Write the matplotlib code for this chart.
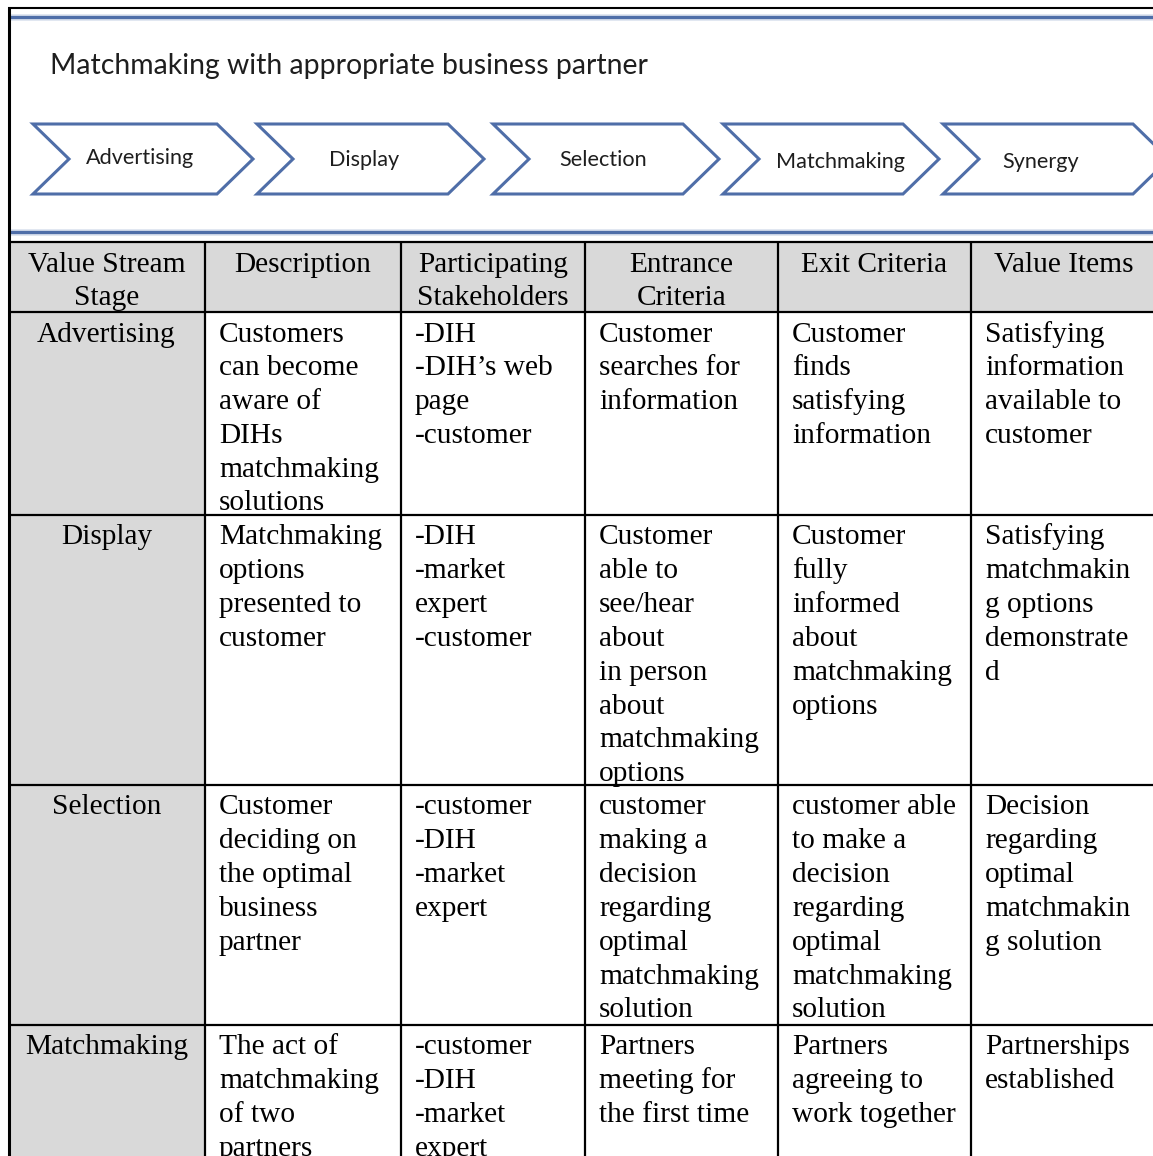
import matplotlib
matplotlib.use("Agg")
import matplotlib.pyplot as plt
from matplotlib.patches import Polygon, Rectangle

# ---------------- data ----------------
title = "Matchmaking with appropriate business partner"
chevron_labels = ["Advertising", "Display", "Selection", "Matchmaking", "Synergy"]

headers = ["Value Stream\nStage", "Description", "Participating\nStakeholders",
           "Entrance\nCriteria", "Exit Criteria", "Value Items"]

stages = ["Advertising", "Display", "Selection", "Matchmaking"]

descriptions = [
    "Customers\ncan become\naware of\nDIHs\nmatchmaking\nsolutions",
    "Matchmaking\noptions\npresented to\ncustomer",
    "Customer\ndeciding on\nthe optimal\nbusiness\npartner",
    "The act of\nmatchmaking\nof two\npartners",
]
stakeholders = [
    "-DIH\n-DIH\u2019s web\npage\n-customer",
    "-DIH\n-market\nexpert\n-customer",
    "-customer\n-DIH\n-market\nexpert",
    "-customer\n-DIH\n-market\nexpert",
]
entrance = [
    "Customer\nsearches for\ninformation",
    "Customer\nable to\nsee/hear\nabout\nin person\nabout\nmatchmaking\noptions",
    "customer\nmaking a\ndecision\nregarding\noptimal\nmatchmaking\nsolution",
    "Partners\nmeeting for\nthe first time",
]
exit_criteria = [
    "Customer\nfinds\nsatisfying\ninformation",
    "Customer\nfully\ninformed\nabout\nmatchmaking\noptions",
    "customer able\nto make a\ndecision\nregarding\noptimal\nmatchmaking\nsolution",
    "Partners\nagreeing to\nwork together",
]
value_items = [
    "Satisfying\ninformation\navailable to\ncustomer",
    "Satisfying\nmatchmakin\ng options\ndemonstrate\nd",
    "Decision\nregarding\noptimal\nmatchmakin\ng solution",
    "Partnerships\nestablished",
]

# ---------------- layout ----------------
W, H = 1153, 1156
col_edges = [8, 205, 401, 585, 778, 971, 1160]
row_edges = [242, 312, 515, 785, 1025, 1170]
chev_left = [33, 257, 493, 723, 943]
chev_right = [217, 448, 683, 903, 1133]
chev_label_x = [140, 364, 603, 840, 1041]
chev_label_y = [158, 160, 160, 162, 162]
chev_top, chev_bot, chev_depth = 124, 194, 36
line_h = 33.8
gray = "#d9d9d9"
blue = "#4f6ea8"
serif = "Liberation Serif"
sans = "Lato"
fs_table = 21.2

fig = plt.figure(figsize=(W / 100, H / 100), dpi=100)
ax = fig.add_axes([0, 0, 1, 1])
ax.set_xlim(0, W)
ax.set_ylim(H, 0)
ax.axis("off")

# upper frame
ax.plot([8, W], [7.5, 7.5], color="black", lw=1.5, solid_capstyle="butt")
for yb in (17, 232):
    ax.plot([8, W], [yb, yb], color="#a9bbd8", lw=5, alpha=0.35, solid_capstyle="butt")
    ax.plot([8, W], [yb, yb], color=blue, lw=2.4, solid_capstyle="butt")

ax.text(50, 66, title, fontsize=20.4, family=sans, color="#1e1e1e",
        ha="left", va="center")

mid = (chev_top + chev_bot) / 2
for lab, l, r, lx, ly in zip(chevron_labels, chev_left, chev_right,
                             chev_label_x, chev_label_y):
    pts = [(l, chev_top), (r, chev_top), (r + chev_depth, mid), (r, chev_bot),
           (l, chev_bot), (l + chev_depth, mid)]
    ax.add_patch(Polygon(pts, closed=True, facecolor="white", edgecolor=blue,
                         lw=2.2, joinstyle="miter"))
    ax.text(lx, ly, lab, fontsize=15.6, family=sans, color="#1e1e1e",
            ha="center", va="center")

# table fills
ax.add_patch(Rectangle((col_edges[0], row_edges[0]), col_edges[-1] - col_edges[0],
                       row_edges[1] - row_edges[0], facecolor=gray, edgecolor="none"))
ax.add_patch(Rectangle((col_edges[0], row_edges[1]), col_edges[1] - col_edges[0],
                       row_edges[-1] - row_edges[1], facecolor=gray, edgecolor="none"))

# table lines
for y in row_edges[:-1]:
    ax.plot([col_edges[0], W], [y, y], color="black", lw=1.6, solid_capstyle="butt")
for x in col_edges[1:-1]:
    ax.plot([x, x], [row_edges[0], H], color="black", lw=1.6, solid_capstyle="butt")
ax.plot([8.5, 8.5], [6.8, H], color="black", lw=2.2, solid_capstyle="butt")

def cell_text(text, ci, ri, center=False):
    x0, x1 = col_edges[ci], col_edges[ci + 1]
    if ci == len(col_edges) - 2:
        x1 = W + 4
    y0 = row_edges[ri]
    for k, line in enumerate(text.split("\n")):
        y = y0 + 29.5 + k * line_h
        if center:
            ax.text((x0 + x1) / 2, y, line, fontsize=fs_table, family=serif,
                    color="black", ha="center", va="baseline")
        else:
            ax.text(x0 + 14, y, line, fontsize=fs_table, family=serif,
                    color="black", ha="left", va="baseline")

for ci, h in enumerate(headers):
    cell_text(h, ci, 0, center=True)

columns = [stages, descriptions, stakeholders, entrance, exit_criteria, value_items]
for ri in range(len(stages)):
    for ci, col in enumerate(columns):
        cell_text(col[ri], ci, ri + 1, center=(ci == 0))

fig.savefig("out.png", dpi=100, facecolor="white")
